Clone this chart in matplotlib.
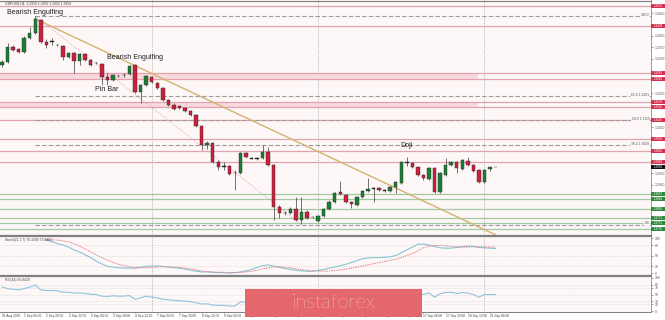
import numpy as np
import matplotlib.pyplot as plt
import matplotlib.transforms as mtransforms
from matplotlib.patches import Rectangle
from matplotlib.lines import Line2D

plt.rcParams['font.family'] = ['Liberation Sans', 'DejaVu Sans']

# GBPUSD H4 candles, 31 Aug 2020 -> 21 Sep 2020
opens = [1.3309, 1.3319, 1.3372, 1.3365, 1.3354, 1.3403, 1.3420, 1.3466, 1.3389, 1.3392,
         1.3379, 1.3375, 1.3337, 1.3351, 1.3323, 1.3347, 1.3326, 1.3316, 1.3312, 1.3267,
         1.3256, 1.3270, 1.3274, 1.3277, 1.3309, 1.3214, 1.3239, 1.3267, 1.3246, 1.3228,
         1.3186, 1.3169, 1.3165, 1.3158, 1.3148, 1.3134, 1.3095, 1.3029, 1.3036, 1.2969,
         1.2955, 1.2955, 1.2931, 1.2931, 1.3001, 1.2983, 1.2983, 1.2983, 1.3004, 1.2959,
         1.2812, 1.2791, 1.2791, 1.2805, 1.2766, 1.2794, 1.2777, 1.2763, 1.2780, 1.2805,
         1.2829, 1.2864, 1.2854, 1.2829, 1.2819, 1.2847, 1.2868, 1.2878, 1.2878, 1.2871,
         1.2868, 1.2882, 1.2896, 1.2969, 1.2966, 1.2952, 1.2924, 1.2910, 1.2948, 1.2864,
         1.2924, 1.2959, 1.2969, 1.2945, 1.2973, 1.2959, 1.2941, 1.2899, 1.2946, 1.2950]
highs = [1.3326, 1.3386, 1.3379, 1.3368, 1.3410, 1.3442, 1.3480, 1.3470, 1.3400, 1.3403,
         1.3382, 1.3379, 1.3354, 1.3354, 1.3351, 1.3351, 1.3330, 1.3319, 1.3316, 1.3281,
         1.3277, 1.3274, 1.3281, 1.3309, 1.3312, 1.3242, 1.3274, 1.3270, 1.3249, 1.3232,
         1.3190, 1.3176, 1.3169, 1.3162, 1.3151, 1.3137, 1.3099, 1.3043, 1.3039, 1.2976,
         1.2969, 1.2959, 1.2941, 1.3004, 1.3004, 1.2987, 1.2987, 1.3029, 1.3022, 1.2962,
         1.2819, 1.2798, 1.2812, 1.2847, 1.2847, 1.2801, 1.2780, 1.2784, 1.2808, 1.2836,
         1.2864, 1.2903, 1.2857, 1.2833, 1.2850, 1.2871, 1.2913, 1.2882, 1.2882, 1.2875,
         1.2885, 1.2903, 1.2973, 1.2987, 1.2969, 1.2955, 1.2927, 1.2952, 1.2952, 1.2934,
         1.2983, 1.2973, 1.2973, 1.2980, 1.2987, 1.2962, 1.2945, 1.2945, 1.2952, 1.2950]
lows = [1.3302, 1.3316, 1.3358, 1.3351, 1.3351, 1.3400, 1.3417, 1.3386, 1.3368, 1.3379,
        1.3375, 1.3326, 1.3333, 1.3281, 1.3309, 1.3323, 1.3305, 1.3312, 1.3239, 1.3239,
        1.3253, 1.3267, 1.3267, 1.3274, 1.3211, 1.3176, 1.3235, 1.3246, 1.3225, 1.3183,
        1.3165, 1.3151, 1.3155, 1.3144, 1.3130, 1.3092, 1.3011, 1.3015, 1.2966, 1.2941,
        1.2941, 1.2924, 1.2871, 1.2927, 1.2983, 1.2980, 1.2976, 1.2980, 1.2955, 1.2766,
        1.2773, 1.2784, 1.2787, 1.2763, 1.2752, 1.2770, 1.2773, 1.2759, 1.2777, 1.2801,
        1.2826, 1.2854, 1.2826, 1.2808, 1.2815, 1.2843, 1.2864, 1.2829, 1.2868, 1.2864,
        1.2864, 1.2861, 1.2892, 1.2955, 1.2948, 1.2920, 1.2906, 1.2906, 1.2861, 1.2861,
        1.2920, 1.2955, 1.2931, 1.2941, 1.2955, 1.2934, 1.2896, 1.2896, 1.2938, 1.2950]
closes = [1.3319, 1.3372, 1.3361, 1.3354, 1.3403, 1.3420, 1.3470, 1.3389, 1.3379, 1.3390,
          1.3378, 1.3337, 1.3351, 1.3323, 1.3347, 1.3326, 1.3309, 1.3314, 1.3267, 1.3256,
          1.3274, 1.3269, 1.3272, 1.3305, 1.3214, 1.3239, 1.3270, 1.3249, 1.3228, 1.3186,
          1.3169, 1.3155, 1.3158, 1.3148, 1.3134, 1.3095, 1.3029, 1.3036, 1.2969, 1.2952,
          1.2953, 1.2927, 1.2929, 1.3001, 1.2987, 1.2981, 1.2980, 1.3004, 1.2959, 1.2812,
          1.2791, 1.2789, 1.2805, 1.2766, 1.2794, 1.2773, 1.2775, 1.2780, 1.2805, 1.2829,
          1.2861, 1.2857, 1.2829, 1.2822, 1.2847, 1.2868, 1.2875, 1.2876, 1.2871, 1.2869,
          1.2882, 1.2899, 1.2969, 1.2967, 1.2952, 1.2924, 1.2913, 1.2948, 1.2864, 1.2931,
          1.2959, 1.2969, 1.2948, 1.2976, 1.2959, 1.2938, 1.2899, 1.2941, 1.2950, 1.2950]

nan = float('nan')
stoch_main = [nan, nan, nan, nan, nan, nan, nan, nan, 94, 90,
              84, 80, 74, 66, 60, 52, 44, 34, 26, 19,
              17, 15, 14, 14, 14, 17, 19, 20, 20, 19,
              17, 15, 14, 11, 8, 5, 3, 3, 2, 1,
              1, 0, 1, 3, 6, 10, 16, 21, 23, 20,
              16, 13, 10, 8, 6, 5, 5, 8, 10, 14,
              17, 21, 25, 30, 35, 41, 43, 44, 44, 45,
              46, 50, 58, 66, 74, 82, 83, 80, 76, 72,
              71, 71, 73, 75, 77, 76, 73, 72, 71, 70]
stoch_signal = [nan, nan, nan, nan, nan, nan, nan, nan, 96, 95,
                94, 92, 89, 84, 77, 69, 60, 52, 44, 37,
                30, 25, 21, 18, 16, 15, 15, 16, 17, 18,
                18, 17, 16, 14, 12, 9, 6, 4, 3, 2,
                2, 1, 1, 2, 3, 5, 8, 12, 15, 17,
                18, 17, 15, 12, 10, 8, 6, 6, 5, 6,
                7, 9, 11, 14, 17, 20, 23, 27, 30, 33,
                36, 39, 44, 50, 55, 64, 72, 77, 78, 79,
                78, 76, 75, 74, 74, 75, 75, 75, 74, 74]
rsi = [73, 68, 66, 64, 68, 72, 79, 64, 62, 62,
       61, 57, 57, 54, 55, 53, 51, 50, 45, 44,
       46, 45, 45, 47, 35, 40, 45, 42, 40, 36,
       34, 32, 31, 30, 28, 25, 21, 22, 18, 17,
       17, 15, 15, 28, 26, 25, 25, 30, 25, 15,
       14, 14, 16, 13, 20, 18, 18, 21, 27, 33,
       40, 38, 34, 33, 40, 44, 45, 45, 44, 44,
       46, 49, 62, 61, 57, 52, 50, 55, 42, 52,
       56, 57, 53, 56, 54, 50, 42, 50, 50, 50]

date_idx = [0, 4, 8, 12, 16, 20, 24, 28, 32, 36, 40, 44, 48, 52, 56, 60, 64, 68, 72, 76, 80, 84, 88]
date_lbl = ['31 Aug 2020', '1 Sep 04:00', '1 Sep 20:00', '2 Sep 12:00', '3 Sep 04:00',
            '3 Sep 20:00', '4 Sep 12:00', '7 Sep 04:00', '7 Sep 20:00', '8 Sep 12:00',
            '9 Sep 04:00', '9 Sep 20:00', '10 Sep 12:00', '11 Sep 04:00', '11 Sep 20:00',
            '14 Sep 12:00', '15 Sep 04:00', '15 Sep 20:00', '16 Sep 12:00', '17 Sep 04:00',
            '17 Sep 20:00', '18 Sep 12:00', '21 Sep 04:00']
week_sep = [27, 57, 87]

price_ticks = [1.3490, 1.3450, 1.3410, 1.3370, 1.3330, 1.3290, 1.3250, 1.3210, 1.3170, 1.3130,
               1.3090, 1.3050, 1.3010, 1.2970, 1.2930, 1.2890, 1.2850, 1.2810, 1.2770, 1.2730]
res_levels = [1.3515, 1.3445, 1.3281, 1.3260, 1.3178, 1.3162, 1.3116, 1.3050, 1.3008, 1.2969]
sup_levels = [1.2857, 1.2840, 1.2805, 1.2773, 1.2757, 1.2735]
zones = [(1.3260, 1.3281), (1.3162, 1.3178)]
fib_high, fib_low = 1.3480, 1.2750
fib_start, fib_end = 6, 54
fib_ratios = [1.0, 0.618, 0.5, 0.382, 0.0]
trend_pts = [(6, 1.3470), (89, 1.2714)]
last_price = 1.2950
notes = [(6, 1.3491, 'Bearish Engulfing'), (24, 1.3333, 'Bearish Engulfing'),
         (18.8, 1.3221, 'Pin Bar'), (73, 1.3025, 'Doji')]

W, H = 665, 320
fig = plt.figure(figsize=(6.65, 3.2), dpi=100)
fig.patch.set_facecolor('white')


def fx(px):
    return px / W


def fy(py):
    return 1 - py / H


bg = '#fdf7f7'
ax = fig.add_axes([0, fy(235), fx(651), 235 / H])
ax_st = fig.add_axes([0, fy(275), fx(651), 38 / H])
ax_rsi = fig.add_axes([0, fy(312), fx(651), 35 / H])
xmin, xmax = -0.36, 117.04
for a in (ax, ax_st, ax_rsi):
    a.set_facecolor(bg)
    a.set_xlim(xmin, xmax)
    a.set_xticks([])
    for s in ('left', 'top', 'bottom'):
        a.spines[s].set_visible(False)
    a.spines['right'].set_color('#8a8a8a')
    a.spines['right'].set_linewidth(0.6)
    a.yaxis.tick_right()
    a.tick_params(axis='y', labelsize=2.4, length=1.5, width=0.4, pad=1,
                  colors='#555555')
    for s in week_sep:
        a.axvline(s, color='#8c8c8c', lw=0.5, ls=(0, (1, 1.5)), zorder=1)

# ---- main price panel
ax.set_ylim(1.27135, 1.3536)
tagged = res_levels + sup_levels + [last_price]
shown_ticks = [t for t in price_ticks if min(abs(t - v) for v in tagged) > 0.0017]
ax.set_yticks(shown_ticks)
ax.set_yticklabels([f'{v:.4f}' for v in shown_ticks])

for lo, hi in zones:
    ax.fill_between([xmin, 85.8], lo, hi, color='#f8d9de', lw=0, zorder=1)
for v in res_levels:
    ax.axhline(v, color='#e3a3ae', lw=0.9, zorder=2)
for v in sup_levels:
    ax.axhline(v, color='#a3c9a3', lw=0.9, zorder=2)

rng = fib_high - fib_low
for r in fib_ratios:
    p = fib_low + r * rng
    ax.plot([fib_start, xmax], [p, p], color='#9c9c9c', lw=0.8, ls=(0, (4, 2)), zorder=2)
    txt = f'{r * 100:.1f}' if r in (0.0, 1.0) else f'{r * 100:.1f} {p:.4f}'
    ax.text(xmax - 0.3, p + 0.0004, txt, fontsize=2.4, color='#555555', ha='right',
            va='center', zorder=6,
            bbox=dict(boxstyle='square,pad=0.3', fc=bg, ec='none'))
ax.plot([fib_start, fib_end], [fib_high, fib_low], color='#d99aa4', lw=0.6,
        ls=(0, (1, 1.5)), zorder=2)

(tx0, ty0), (tx1, ty1) = trend_pts
slope = (ty1 - ty0) / (tx1 - tx0)
ax.plot([tx0, tx1 + 6], [ty0, ty1 + 6 * slope], color='#d2b46c', lw=1.0, zorder=3)

o, h, l, c = map(np.array, (opens, highs, lows, closes))
x = np.arange(len(o))
cols = np.where(c >= o, '#1d7f36', '#d01f3c')
cols = np.where(np.abs(c - o) < 0.0003, '#222222', cols)
ax.vlines(x, l, h, color='#3a3a3a', lw=0.5, zorder=4)
ax.bar(x, np.maximum(np.abs(c - o), 0.0002), bottom=np.minimum(o, c), width=0.62,
       color=cols, edgecolor='#2a2a2a', linewidth=0.3, zorder=5)

for nx, ny, t in notes:
    ax.text(nx, ny, t, fontsize=5.1, color='#222222', ha='center', va='center', zorder=7)

trans = mtransforms.blended_transform_factory(ax.transAxes, ax.transData)


def tag(val, fc):
    ax.add_patch(Rectangle((1.0, val - 0.0007), 14 / 651, 0.0014, transform=trans,
                           clip_on=False, fc=fc, ec='none', zorder=8))
    ax.text(1.0 + 7 / 651, val, f'{val:.4f}', transform=trans, fontsize=2.2,
            color='white', ha='center', va='center', clip_on=False, zorder=9)


for v in res_levels:
    tag(v, '#d7304e')
for v in sup_levels:
    tag(v, '#2f8a3e')
tag(last_price, '#111111')

# ---- stochastic
ax_st.set_ylim(-5.7, 102.9)
ax_st.set_yticks([100, 80, 50, 20, 0])
for v in (80, 50, 20):
    ax_st.axhline(v, color='#cfcfcf', lw=0.5, ls=(0, (1, 1.5)), zorder=1)
ax_st.plot(np.arange(len(stoch_main)), stoch_main, color='#86c5d3', lw=0.8, zorder=3)
ax_st.plot(np.arange(len(stoch_signal)), stoch_signal, color='#e0808e', lw=0.7,
           ls=(0, (1.5, 1)), zorder=3)
ax_st.text(0.5, 101, 'Stoch(21,7,7) 70.3209 73.8462', fontsize=2.4, color='#444444',
           ha='left', va='top')

# ---- RSI
ax_rsi.set_ylim(-3, 103)
ax_rsi.set_yticks([100, 80, 70, 50, 30, 20, 0])
for v in (80, 70, 50, 30, 20):
    ax_rsi.axhline(v, color='#d3d3d3', lw=0.5, ls=(0, (1, 1.5)), zorder=1)
ax_rsi.plot(np.arange(len(rsi)), rsi, color='#8fc3de', lw=0.8, zorder=3)
ax_rsi.text(0.5, 101, 'RSI(14) 50.8429', fontsize=2.4, color='#444444', ha='left', va='top')

dtrans = mtransforms.blended_transform_factory(ax_rsi.transData, ax_rsi.transAxes)
for i, t in zip(date_idx, date_lbl):
    ax_rsi.text(i, -0.06, t, transform=dtrans, fontsize=2.3, color='#444444',
                ha='left', va='top', clip_on=False)
    ax_rsi.plot([i, i], [0, -0.03], transform=dtrans, color='#777777', lw=0.4,
                clip_on=False)

# frame lines
for py, lw in ((1, 0.8), (236, 1.6), (276, 1.6), (312, 0.7)):
    fig.add_artist(Line2D([0, fx(651)], [fy(py), fy(py)], color='#7f7f7f', lw=lw,
                          transform=fig.transFigure, zorder=15))

fig.text(fx(5), fy(4), 'GBPUSD,H4  1.2950 1.2950 1.2950 1.2950', fontsize=2.4,
         color='#444444', ha='left', va='center')

# logo
fig.add_artist(Rectangle((fx(245), fy(317)), fx(177), 28 / H, transform=fig.transFigure,
                         fc='#e4686b', ec='none', zorder=20))
fig.text(fx(333), fy(303), 'instaforex', color='white', fontsize=14.5, ha='center',
         va='center', family=['Lato', 'DejaVu Sans'], fontweight='light', zorder=21)

fig.savefig('out.png', dpi=100)
